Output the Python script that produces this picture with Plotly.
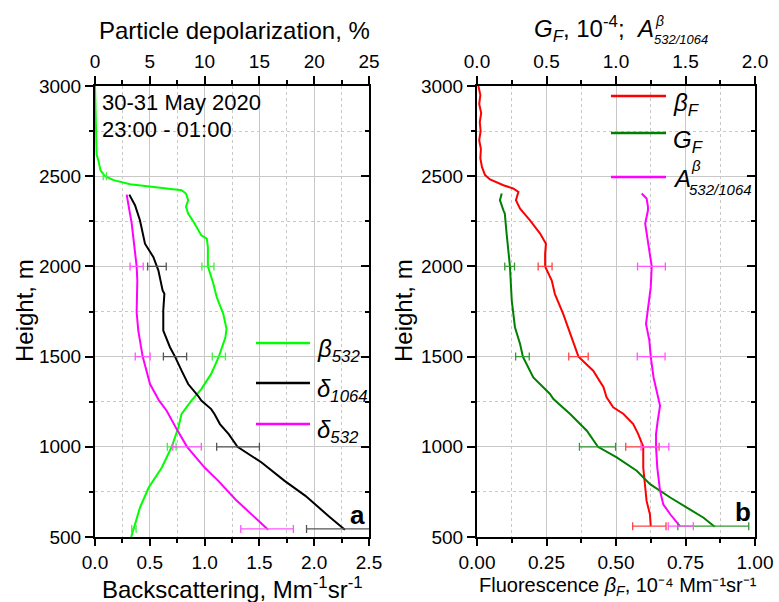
import plotly.graph_objects as go

# ---------------- data ----------------
# Panel a: beta_532 backscattering (Mm-1 sr-1) vs height (m)
h_b532 = [3000, 2900, 2800, 2700, 2620, 2589, 2533, 2500, 2478, 2456, 2441, 2430, 2422, 2404,
          2367, 2330, 2293, 2237, 2172, 2154, 2107, 2000, 1904, 1830, 1737, 1654, 1607, 1500,
          1404, 1320, 1256, 1182, 1107, 1000, 885, 774, 663, 570, 515, 500]
b532 = [0.0, 0.005, 0.008, 0.01, 0.015, 0.03, 0.05, 0.09, 0.17, 0.32, 0.53, 0.71, 0.79, 0.83,
        0.85, 0.83, 0.85, 0.91, 0.97, 1.02, 1.03, 1.03, 1.08, 1.11, 1.17, 1.20, 1.19, 1.13,
        1.06, 0.97, 0.88, 0.79, 0.76, 0.70, 0.61, 0.49, 0.41, 0.365, 0.335, 0.33]

# delta_1064 particle depolarization (%)
h_d1064 = [2398, 2339, 2256, 2126, 2052, 2000, 1978, 1867, 1848, 1756, 1644, 1552, 1500, 1422,
           1348, 1283, 1256, 1209, 1182, 1126, 1070, 1000, 913, 811, 728, 617, 540]
d1064 = [3.13, 3.65, 4.1, 4.56, 5.32, 5.6, 5.78, 6.17, 6.33, 6.23, 6.23, 6.84, 7.3, 7.9,
         8.5, 9.4, 9.7, 10.6, 10.9, 11.4, 12.2, 13.0, 15.2, 17.3, 19.2, 21.3, 22.8]

# delta_532 particle depolarization (%)
h_d532 = [2398, 2237, 2000, 1922, 1746, 1644, 1500, 1348, 1256, 1200, 1098, 1000, 885, 811,
          709, 607, 540]
d532 = [2.89, 3.35, 3.8, 3.86, 3.8, 3.95, 4.35, 5.02, 5.85, 6.54, 7.45, 8.4, 10.0, 11.25,
        12.8, 14.6, 15.8]

# error bars, panel a
eh_b532 = [2500, 2000, 1500, 1000, 545]
ev_b532 = [0.09, 1.03, 1.13, 0.70, 0.355]
ee_b532 = [0.015, 0.055, 0.06, 0.04, 0.02]
eh_d1064 = [2000, 1500, 1000, 545]
ev_d1064 = [5.65, 7.3, 13.05, 22.8]
ee_d1064 = [0.85, 1.06, 1.95, 3.5]
eh_d532 = [2000, 1500, 1000, 545]
ev_d532 = [3.8, 4.35, 8.4, 15.7]
ee_d532 = [0.6, 0.68, 1.3, 2.4]

# Panel b: fluorescence beta_F (1e-4 Mm-1 sr-1)
h_bF = [3000, 2950, 2900, 2850, 2800, 2750, 2700, 2650, 2600, 2550, 2506, 2482, 2450, 2432,
        2413, 2367, 2320, 2311, 2256, 2182, 2126, 2070, 2000, 1922, 1848, 1737, 1626, 1500,
        1422, 1330, 1274, 1219, 1182, 1126, 1070, 1000, 885, 774, 700, 626, 560]
bF = [0.005, 0.012, 0.008, 0.015, 0.01, 0.013, 0.008, 0.014, 0.012, 0.018, 0.029, 0.047, 0.095, 0.13,
      0.149, 0.14, 0.155, 0.16, 0.19, 0.227, 0.248, 0.245, 0.245, 0.269, 0.28, 0.31, 0.335, 0.365,
      0.418, 0.455, 0.466, 0.49, 0.527, 0.562, 0.58, 0.598, 0.598, 0.604, 0.61, 0.622, 0.625]

# G_F (1e-4)
h_GF = [2404, 2367, 2311, 2293, 2182, 2070, 2000, 1811, 1663, 1570, 1500, 1385, 1367, 1293,
        1265, 1182, 1089, 1000, 941, 867, 793, 719, 663, 607, 557]
GF = [0.178, 0.165, 0.19, 0.2, 0.213, 0.225, 0.237, 0.25, 0.273, 0.31, 0.33, 0.405, 0.43, 0.525,
      0.55, 0.67, 0.79, 0.87, 1.005, 1.149, 1.245, 1.39, 1.51, 1.63, 1.71]

# A^beta_532/1064
h_A = [2404, 2376, 2330, 2311, 2237, 2126, 2000, 1885, 1756, 1681, 1589, 1500, 1385, 1274,
       1228, 1144, 1070, 1000, 885, 756, 681, 626, 570, 560]
A = [1.185, 1.22, 1.23, 1.23, 1.21, 1.23, 1.257, 1.25, 1.23, 1.216, 1.24, 1.25, 1.27, 1.30,
     1.317, 1.30, 1.288, 1.288, 1.297, 1.317, 1.34, 1.39, 1.45, 1.46]

# error bars, panel b
eh_b = [2000, 1500, 1000, 560]
ev_bF = [0.245, 0.365, 0.595, 0.62]
ee_bF = [0.025, 0.035, 0.06, 0.06]
ev_GF = [0.235, 0.327, 0.867, 1.70]
ee_GF = [0.035, 0.049, 0.13, 0.255]
ev_A = [1.255, 1.253, 1.28, 1.466]
ee_A = [0.1, 0.1, 0.1, 0.09]

# ---------------- figure ----------------
W, H = 779, 602
FONT = "Arial, Liberation Sans, sans-serif"
GREEN, BLACK, MAG, RED, DGREEN = "#00ff00", "#000000", "#ff00ff", "#ff0000", "#008000"

def px(x):
    return x / W

def py(y):
    return 1 - y / H

fig = go.Figure()

def line(x, y, color, xa, ya):
    fig.add_trace(go.Scatter(x=x, y=y, mode="lines", line=dict(color=color, width=2),
                             xaxis=xa, yaxis=ya, showlegend=False, hoverinfo="skip"))

def errs(x, y, e, color, xa, ya):
    fig.add_trace(go.Scatter(x=x, y=y, mode="markers", marker=dict(size=1, opacity=0),
                             error_x=dict(type="data", array=e, color=color, thickness=1.3, width=4),
                             xaxis=xa, yaxis=ya, showlegend=False, hoverinfo="skip"))

line(b532, h_b532, GREEN, "x", "y")
line(d1064, h_d1064, BLACK, "x2", "y")
line(d532, h_d532, MAG, "x2", "y")
errs(ev_b532, eh_b532, ee_b532, "#44ee44", "x", "y")
errs(ev_d1064, eh_d1064, ee_d1064, "#555555", "x2", "y")
errs(ev_d532, eh_d532, ee_d532, "#ff55ff", "x2", "y")

line(bF, h_bF, RED, "x3", "y2")
line(GF, h_GF, DGREEN, "x4", "y2")
line(A, h_A, MAG, "x4", "y2")
errs(ev_bF, eh_b, ee_bF, "#ff4444", "x3", "y2")
errs(ev_GF, eh_b, ee_GF, "#339933", "x4", "y2")
errs(ev_A, eh_b, ee_A, "#ff55ff", "x4", "y2")

dom_a = [px(95), px(369)]
dom_b = [px(477), px(755)]
dom_y = [py(537), py(86)]

tickfont = dict(family=FONT, size=19, color="black")
GRID = "#c8c8c8"

def xbottom(rng, dt, mdt, fmt):
    return dict(range=rng, dtick=dt, tick0=0, tickformat=fmt, showline=True, linecolor="black",
                linewidth=2, ticks="outside", ticklen=7, tickwidth=1.5, tickcolor="black",
                tickfont=tickfont,
                showgrid=True, gridcolor=GRID, gridwidth=1, zeroline=False,
                minor=dict(dtick=mdt, tick0=0, ticks="outside", ticklen=4, tickwidth=1.5,
                           tickcolor="black", showgrid=True, gridcolor=GRID, griddash="dot"),
                automargin=False, fixedrange=True)

def xtop(rng, dt, mdt, over, fmt):
    return dict(range=rng, dtick=dt, tick0=0, tickformat=fmt, overlaying=over, side="top",
                showline=True, linecolor="black", linewidth=2, ticks="outside", ticklen=8,
                tickwidth=1.5, tickcolor="black", tickfont=tickfont, showgrid=False,
                zeroline=False,
                minor=dict(dtick=mdt, tick0=0, ticks="outside", ticklen=4, tickwidth=1.5,
                           tickcolor="black", showgrid=False),
                automargin=False, fixedrange=True)

def yleft(anchor):
    return dict(range=[500, 3000], dtick=500, tick0=0, domain=dom_y, anchor=anchor,
                showline=True, linecolor="black", linewidth=2, ticks="outside", ticklen=8,
                tickwidth=1.5, tickcolor="black", tickfont=tickfont, showgrid=True,
                gridcolor=GRID, gridwidth=1, zeroline=False,
                minor=dict(dtick=250, tick0=0, ticks="outside", ticklen=4, tickwidth=1.5,
                           tickcolor="black", showgrid=True, gridcolor=GRID, griddash="dot"),
                automargin=False, fixedrange=True)

def yright(over, anchor):
    return dict(range=[500, 3000], dtick=500, tick0=0, overlaying=over, anchor=anchor,
                side="right", showline=True, linecolor="black", linewidth=2, ticks="inside",
                ticklen=8, tickwidth=1.5, tickcolor="black", showticklabels=False,
                showgrid=False, zeroline=False,
                minor=dict(dtick=250, tick0=0, ticks="inside", ticklen=4, tickwidth=1.5,
                           tickcolor="black", showgrid=False),
                automargin=False, fixedrange=True)

fig.update_layout(
    width=W, height=H, margin=dict(l=0, r=0, t=0, b=0),
    paper_bgcolor="white", plot_bgcolor="white",
    font=dict(family=FONT, color="black"),
    xaxis=dict(domain=dom_a, anchor="y", **xbottom([0, 2.5], 0.5, 0.25, ".1f")),
    xaxis2=dict(anchor="y", **xtop([0, 25], 5, 2.5, "x", "d")),
    xaxis3=dict(domain=dom_b, anchor="y2", **xbottom([0, 1], 0.25, 0.125, ".2f")),
    xaxis4=dict(anchor="y2", **xtop([0, 2], 0.5, 0.25, "x3", ".1f")),
    yaxis=yleft("x"),
    yaxis2=yleft("x3"),
    yaxis3=yright("y", "x"),
    yaxis4=yright("y2", "x3"),
)

# dummy traces so the mirror axes are drawn
fig.add_trace(go.Scatter(x=[None], y=[None], xaxis="x", yaxis="y3", showlegend=False))
fig.add_trace(go.Scatter(x=[None], y=[None], xaxis="x3", yaxis="y4", showlegend=False))

ann = []
def text(x, y, t, size=24, xanchor="center", yanchor="middle", angle=0):
    ann.append(dict(x=px(x), y=py(y), xref="paper", yref="paper", text=t, showarrow=False,
                    xanchor=xanchor, yanchor=yanchor, textangle=angle,
                    font=dict(family=FONT, size=size, color="black")))

# axis titles
text(234, 31, "Particle depolarization, %")
text(232, 588, "Backscattering, Mm<sup>-1</sup>sr<sup>-1</sup>")
text(24, 311, "Height, m", angle=-90)
text(403, 311, "Height, m", angle=-90)
text(618, 601, "Fluorescence <i>β</i><sub><i>F</i></sub>, 10⁻⁴ Mm⁻¹sr⁻¹",
     size=20, yanchor="bottom")
text(656, 29, "<i>G</i><sub><i>F</i></sub>, 10<sup>-4</sup>;  <i>A</i>", xanchor="right")
text(653, 21, "<i>β</i>", size=14, xanchor="left")
text(652, 39, "<i>532/1064</i>", size=13, xanchor="left")

# date / time
text(100, 102, "30-31 May 2020", size=22, xanchor="left")
text(100, 130, "23:00 - 01:00", size=22, xanchor="left")

# panel letters
text(357, 515, "<b>a</b>", size=26)
text(743, 512, "<b>b</b>", size=26)

# legends (drawn manually)
shapes = []
def leg(x0, x1, y, color, label, lx, ly):
    shapes.append(dict(type="line", xref="paper", yref="paper", x0=px(x0), x1=px(x1),
                       y0=py(y), y1=py(y), line=dict(color=color, width=2.5)))
    text(lx, ly, label, size=24, xanchor="left")

leg(256, 310, 343, GREEN, "<i>β</i><sub><i>532</i></sub>", 315, 350)
leg(256, 310, 383, BLACK, "<i>δ</i><sub><i>1064</i></sub>", 315, 390)
leg(256, 310, 424, MAG, "<i>δ</i><sub><i>532</i></sub>", 315, 431)

leg(611, 666, 96, RED, "<i>β</i><sub><i>F</i></sub>", 671, 104)
leg(611, 666, 133, DGREEN, "<i>G</i><sub><i>F</i></sub>", 671, 141)
leg(611, 666, 177, MAG, "<i>A</i>", 671, 178)
text(689, 166, "<i>β</i>", size=15, xanchor="left")
text(687, 189, "<i>532/1064</i>", size=15, xanchor="left")

fig.update_layout(annotations=ann, shapes=shapes)
fig.write_html("out.html")
